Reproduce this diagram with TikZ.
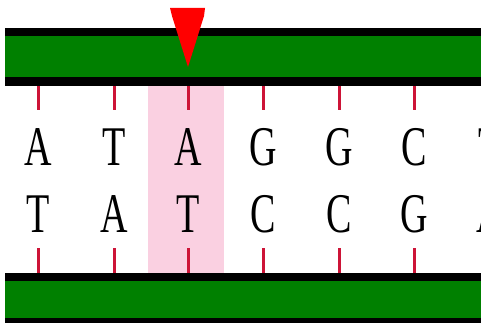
\documentclass[tikz,border=0pt]{standalone}
\usepackage{fontspec}
\setmainfont{Liberation Serif}
\definecolor{bargreen}{RGB}{0,128,0}
\definecolor{hlpink}{RGB}{250,208,225}
\definecolor{tickred}{RGB}{205,20,55}
\definecolor{pinred}{RGB}{255,0,0}
\begin{document}
\begin{tikzpicture}[x=1pt,y=-1pt,
  base/.style={inner sep=0pt,outer sep=0pt,
    font=\fontsize{56}{56}\selectfont},
  tickline/.style={draw=tickred,line width=3pt},
  blackstrip/.style={fill=black},
  greenfill/.style={fill=bargreen}]
\useasboundingbox (0,0) rectangle (481,323);
\begin{scope}
\clip (0,0) rectangle (481,323);
% highlight
\fill[hlpink] (148,86) rectangle (224,273);
% top bar
\fill[greenfill] (5,28) rectangle (481,86);
\fill[blackstrip] (5,28) rectangle (481,36);
\fill[blackstrip] (5,77) rectangle (481,86);
% bottom bar
\fill[greenfill] (5,273) rectangle (481,323);
\fill[blackstrip] (5,273) rectangle (481,281);
\fill[blackstrip] (5,318) rectangle (481,323);
% ticks and letters
\foreach \x/\a/\b [count=\i] in {38/A/T,114/T/A,188/A/T,263/G/C,339/G/C,414/C/G,490/T/A}{
  \draw[tickline] (\x,86) -- (\x,110);
  \draw[tickline] (\x,248) -- (\x,273);
  \node[base] (top\i) at (\x,147.5) {\scalebox{0.68}[1]{\a}};
  \node[base] (bot\i) at (\x,214) {\scalebox{0.68}[1]{\b}};
}
% marker
\fill[pinred] (170,8) -- (205,8) -- (204,16) -- (188,67) -- (172,16) -- cycle;
\end{scope}
\end{tikzpicture}
\end{document}
